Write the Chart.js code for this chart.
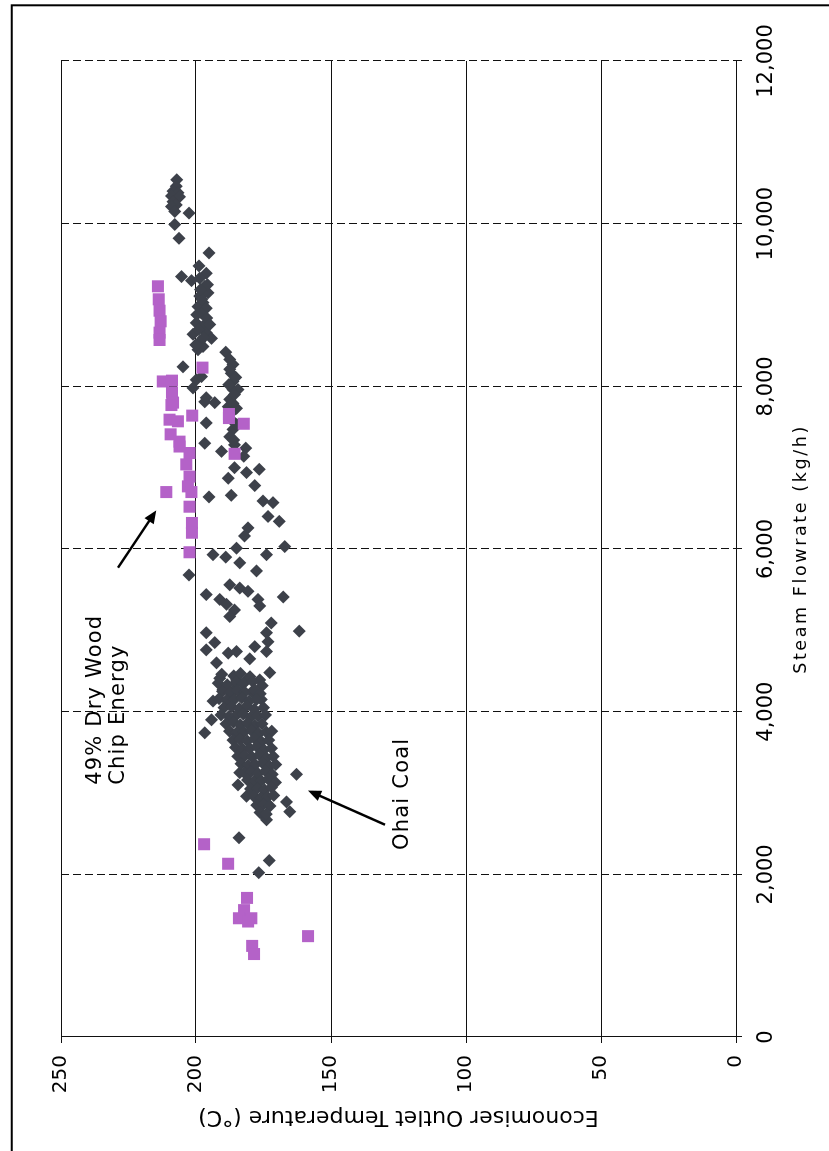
<!DOCTYPE html>
<html>
<head>
<meta charset="utf-8">
<script src="https://cdn.jsdelivr.net/npm/chart.js@4/dist/chart.umd.min.js"></script>
<style>
  html, body { margin: 0; padding: 0; background: #fff; overflow: hidden; width: 829px; height: 1151px; }
  /* the chart is laid out landscape and turned a quarter turn onto the portrait page */
  #wrap { position: absolute; left: 0; top: 0; width: 1151px; height: 829px;
          transform-origin: 0 0; transform: translateY(1151px) rotate(-90deg); }
  canvas { display: block; }
</style>
</head>
<body>
<div id="wrap"><canvas id="chart" width="1151" height="829"></canvas></div>
<script>
// Axis ticks
const flowTicks = [0, 2000, 4000, 6000, 8000, 10000, 12000];
const tempTicks = [0, 50, 100, 150, 200, 250];

// Ohai coal: steam flowrate (kg/h) and economiser outlet temperature (°C)
const coalFlow = [
  10540,10460,10400,10380,10340,10330,10270,10230,10210,10150,10130,9990,9820,9640,
  9480,9390,9350,9300,9330,9230,9150,9110,9030,8980,8960,8900,8780,8740,8640,8660,8590,8550,8450,8490,
  9160,9070,8840,8700,8600,8510,8760,8880,9250,9190,
  8240,8080,8120,7980,7860,7800,7810,7550,7300,7200,
  8420,8330,8270,8160,8060,7960,7960,7840,7750,7730,7790,7590,7470,7280,7240,7140,
  8210,8110,8020,7900,7680,7530,7380,7340,
  7000,6870,6940,6980,6780,6660,6640,6590,6570,6400,6340,6260,6160,6030,6010,5930,5900,5830,5930,5730,5680,
  5560,5520,5480,5440,5380,5320,5380,5410,5250,5170,5300,5090,4970,4860,4990,4970,4850,4760,4720,4740,4600,4650,4800,4740,
  4410,4390,4390,4390,4480,4270,4270,4230,4130,4150,3900,3740,3230,3250,3100,2960,2890,2980,2880,2730,2670,2770,2450,2170,2020,
  4460,4440,4470,4430,
  4350,4330,4360,4340,4370,4320,
  4250,4230,4260,4240,4270,4220,
  4160,4140,4150,4170,4130,4150,
  4050,4060,4040,4070,4030,4050,
  3960,3940,3950,3970,3930,3950,3960,
  3850,3870,3840,3860,3830,3850,
  3760,3740,3750,3770,3730,3750,3760,
  3650,3660,3640,3670,3630,3650,
  3560,3540,3550,3570,3530,3550,
  3450,3460,3440,3470,3430,3450,
  3360,3340,3350,3370,3330,3350,
  3250,3260,3240,3270,3230,
  3160,3140,3150,3170,3130,
  3050,3060,3040,3070,
  2960,2940,2950,2970,
  2850,2860,2840,
  2760,2740
];
const coalTemp = [
  207.1,207.3,208.5,206.7,209.1,206.1,208.5,207.3,209.1,207.9,202.6,207.9,206.3,195.2,
  198.9,196.2,205.4,201.7,198.6,196.8,195.6,198.6,197.4,199.3,196.2,198.0,199.9,197.4,201.1,196.2,194.3,198.6,199.3,197.4,
  196.8,197.9,196.0,199.0,197.2,200.1,194.9,199.7,195.7,198.3,
  204.8,199.9,198.0,201.1,196.2,193.1,196.8,196.2,196.8,190.6,
  189.0,187.5,186.3,186.9,186.3,186.3,184.4,187.5,188.1,185.0,186.3,186.9,186.3,185.7,181.6,182.3,
  187.5,185.3,187.9,185.7,186.8,184.9,187.5,186.0,
  185.7,188.1,181.3,176.6,178.2,186.9,195.2,175.2,171.5,173.3,169.2,180.7,182.0,167.1,185.0,193.7,189.0,183.8,173.9,177.6,202.6,
  187.5,183.8,180.7,196.2,191.2,188.7,177.0,167.7,185.7,187.5,176.4,172.1,173.9,173.3,161.8,196.2,193.1,196.2,188.1,185.0,192.4,180.1,178.2,173.9,
  191.2,185.0,181.3,176.4,172.7,190.0,185.7,178.9,193.7,175.8,194.3,196.8,162.8,183.8,184.4,181.3,166.5,174.5,173.9,175.2,173.9,165.3,184.1,172.9,176.8,
  190.5,186.0,183.5,180.0,
  191.8,188.4,185.2,182.6,179.0,175.5,
  190.2,187.3,184.6,181.9,178.5,176.2,
  191.5,188.7,185.8,183.1,180.4,177.6,
  189.6,186.8,184.0,181.2,178.4,175.0,
  190.7,187.9,185.3,182.5,179.8,177.1,174.3,
  188.9,186.1,183.6,180.9,178.2,175.6,
  187.6,185.0,182.2,179.5,176.8,174.0,171.9,
  186.3,183.7,181.0,178.3,175.7,173.1,
  185.4,182.8,180.1,177.5,174.8,172.0,
  184.5,181.9,179.2,176.6,173.9,171.4,
  183.3,180.7,178.1,175.4,172.8,170.5,
  182.1,179.6,177.0,174.3,171.8,
  180.9,178.5,175.8,173.2,170.6,
  179.8,177.2,174.6,172.0,
  178.6,176.0,173.5,171.2,
  177.5,175.1,172.6,
  176.3,174.0
];

// 49% dry wood chip energy
const woodFlow = [
  9230,9070,8930,8800,8660,8570,8060,8070,7920,7800,7770,7590,7570,7410,7320,7260,
  7180,7040,6890,6770,6700,6700,6520,6320,6200,5960,8230,7640,7610,7660,7540,7170,
  2370,2130,1710,1560,1460,1460,1420,1240,1120,1020
];
const woodTemp = [
  214.1,213.8,213.5,213.1,213.5,213.5,212.3,208.9,208.9,208.5,209.1,209.8,206.7,209.4,206.1,206.1,
  202.4,203.6,202.4,203.0,201.7,211.0,202.4,201.5,201.5,202.4,197.6,201.4,187.8,187.8,182.3,185.7,
  197.0,188.1,181.1,182.2,184.1,179.5,180.7,158.5,179.2,178.5
];

// Callout labels and arrows, in data units
const noteText = ['49% Dry Wood', 'Chip Energy', 'Ohai Coal'];
const noteFlow = [3100, 3100, 2300];
const noteTemp = [235.1, 226.5, 121.4];
const arrowFromFlow = [5770, 2610];
const arrowFromTemp = [228.9, 130.0];
const arrowToFlow = [6475, 3030];
const arrowToTemp = [214.7, 158.5];

const zip = (xs, ys) => xs.map((v, i) => ({ x: v, y: ys[i] }));

const FONT = "'DejaVu Sans', Verdana, sans-serif";
Chart.defaults.font.family = FONT;
Chart.defaults.color = '#000';

// Outer frame of the figure
const framePlugin = {
  id: 'frame',
  afterDraw(chart) {
    const ctx = chart.ctx;
    const top = 11.7, right = chart.width - 5.3;
    ctx.save();
    ctx.strokeStyle = '#000';
    ctx.lineWidth = 2;
    ctx.beginPath();
    ctx.moveTo(0, top);
    ctx.lineTo(right, top);
    ctx.lineTo(right, chart.height);
    ctx.stroke();
    ctx.restore();
  }
};

// Wider tracking for the flowrate axis title
const titleTracking = {
  id: 'titleTracking',
  beforeDraw(chart) {
    const sx = chart.scales.x;
    if (sx && !sx._tracked) {
      const orig = sx.drawTitle;
      sx.drawTitle = function () {
        this.ctx.save();
        this.ctx.letterSpacing = '2.6px';
        orig.call(this);
        this.ctx.restore();
      };
      sx._tracked = true;
    }
  }
};

// Text callouts with arrows
const calloutPlugin = {
  id: 'callouts',
  afterDatasetsDraw(chart) {
    const { ctx, scales: { x, y } } = chart;
    ctx.save();
    ctx.fillStyle = '#000';
    ctx.strokeStyle = '#000';
    ctx.font = '21px ' + FONT;
    ctx.letterSpacing = '1.2px';
    ctx.textAlign = 'left';
    ctx.textBaseline = 'alphabetic';
    noteText.forEach((t, i) => {
      ctx.fillText(t, x.getPixelForValue(noteFlow[i]), y.getPixelForValue(noteTemp[i]));
    });
    const headLen = 13, headHalf = 5.5;
    arrowFromFlow.forEach((f, i) => {
      const x0 = x.getPixelForValue(f), y0 = y.getPixelForValue(arrowFromTemp[i]);
      const x1 = x.getPixelForValue(arrowToFlow[i]), y1 = y.getPixelForValue(arrowToTemp[i]);
      const a = Math.atan2(y1 - y0, x1 - x0);
      const c = Math.cos(a), s = Math.sin(a);
      ctx.lineWidth = 2.5;
      ctx.beginPath();
      ctx.moveTo(x0, y0);
      ctx.lineTo(x1 - c * headLen * 0.8, y1 - s * headLen * 0.8);
      ctx.stroke();
      ctx.beginPath();
      ctx.moveTo(x1, y1);
      ctx.lineTo(x1 - c * headLen - s * headHalf, y1 - s * headLen + c * headHalf);
      ctx.lineTo(x1 - c * headLen + s * headHalf, y1 - s * headLen - c * headHalf);
      ctx.closePath();
      ctx.fill();
    });
    ctx.restore();
  }
};

new Chart(document.getElementById('chart'), {
  type: 'scatter',
  data: {
    datasets: [
      {
        label: 'Ohai Coal',
        data: zip(coalFlow, coalTemp),
        pointStyle: 'rectRot',
        pointRadius: 6.5,
        backgroundColor: '#3d414a',
        borderColor: '#3d414a',
        borderWidth: 0,
        order: 2
      },
      {
        label: '49% Dry Wood Chip Energy',
        data: zip(woodFlow, woodTemp),
        pointStyle: 'rect',
        pointRadius: 8.5,
        backgroundColor: '#b462c8',
        borderColor: '#b462c8',
        borderWidth: 0,
        order: 1
      }
    ]
  },
  options: {
    responsive: false,
    animation: false,
    events: [],
    layout: { padding: { left: 0, right: 61, top: 61, bottom: 0 } },
    plugins: { legend: { display: false }, tooltip: { enabled: false } },
    scales: {
      x: {
        type: 'linear',
        position: 'bottom',
        min: 0, max: 12000,
        afterBuildTicks: s => { s.ticks = flowTicks.map(v => ({ value: v })); },
        afterFit: s => { s.height = 93; },
        ticks: {
          font: { size: 21 }, color: '#000', padding: 12, maxRotation: 0,
          callback: v => Number(v).toLocaleString('en-US')
        },
        grid: { color: '#111', lineWidth: 1, tickLength: 6, tickColor: '#111', tickBorderDash: [] },
        border: { display: true, color: '#111', width: 1, dash: [8, 4] },
        title: {
          display: true, text: 'Steam Flowrate (kg/h)', color: '#000',
          font: { size: 17.5 }, padding: { top: 0, bottom: 17 }
        }
      },
      y: {
        type: 'linear',
        min: 0, max: 250,
        afterBuildTicks: s => { s.ticks = tempTicks.map(v => ({ value: v })); },
        afterFit: s => { s.width = 114; },
        ticks: { font: { size: 20 }, color: '#000', padding: 12 },
        grid: { color: '#111', lineWidth: 1, tickLength: 6, tickColor: '#111' },
        border: { display: true, color: '#111', width: 1 },
        title: {
          display: true, text: 'Economiser Outlet Temperature (°C)', color: '#000',
          font: { size: 22 }, padding: { top: 21, bottom: 0 }
        }
      }
    }
  },
  plugins: [titleTracking, calloutPlugin, framePlugin]
});
</script>
</body>
</html>
